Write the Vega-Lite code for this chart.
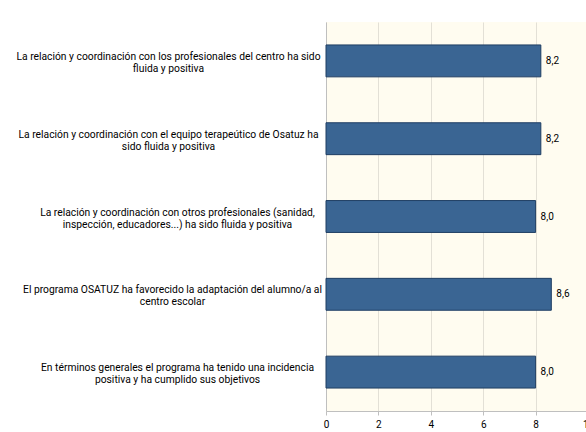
{
  "$schema": "https://vega.github.io/schema/vega-lite/v6.json",
  "width": 262,
  "height": 389,
  "autosize": {"type": "none"},
  "padding": {"left": 326, "top": 22, "right": 0, "bottom": 21},
  "background": "white",
  "config": {
    "locale": {"number": {"decimal": ",", "thousands": ".", "grouping": [3], "currency": ["", " €"]}},
    "view": {"fill": "#FFFCF0", "stroke": null},
    "font": "Roboto"
  },
  "data": {
    "values": [
      {"q": "La relación y coordinación con los profesionales del centro ha sido|fluida y positiva", "v": 8.2},
      {"q": "La relación y coordinación con el equipo terapeútico de Osatuz ha|sido fluida y positiva", "v": 8.2},
      {"q": "La relación y coordinación con otros profesionales (sanidad,|inspección, educadores...) ha sido fluida y positiva", "v": 8.0},
      {"q": "El programa OSATUZ ha favorecido la adaptación del alumno/a al|centro escolar", "v": 8.6},
      {"q": "En términos generales el programa ha tenido una incidencia|positiva  y ha cumplido sus objetivos", "v": 8.0}
    ]
  },
  "encoding": {
    "y": {
      "field": "q", "type": "nominal", "sort": null, "title": null,
      "scale": {"paddingInner": 0.59, "paddingOuter": 0.295},
      "axis": {
        "labelExpr": "split(datum.label, '|')",
        "labelAlign": "center",
        "labelBaseline": "middle",
        "labelLimit": 400,
        "labelFontSize": 10.3,
        "labelColor": "#000000",
        "labelLineHeight": 12,
        "labelOffset": -4,
        "ticks": false,
        "labelPadding": {
          "condition": [
            {"test": "indexof(datum.value, 'otros') >= 0 || indexof(datum.value, 'términos') >= 0", "value": 149},
            {"test": "indexof(datum.value, 'OSATUZ') >= 0", "value": 154}
          ],
          "value": 158
        },
        "domainColor": "#BFBFBF"
      }
    }
  },
  "layer": [
    {
      "mark": {"type": "bar", "color": "#3A6593", "stroke": "#1F3E63", "strokeWidth": 1},
      "encoding": {
        "x": {
          "field": "v", "type": "quantitative", "title": null,
          "scale": {"domain": [0, 10], "nice": false},
          "axis": {
            "values": [0, 2, 4, 6, 8, 10],
            "format": "d",
            "gridColor": "#E3E0D6",
            "domainColor": "#BFBFBF",
            "tickColor": "#BFBFBF",
            "tickSize": 4,
            "labelFontSize": 10,
            "labelColor": "#000000",
            "labelPadding": 4,
            "labelFlush": false
          }
        }
      }
    },
    {
      "mark": {"type": "text", "align": "left", "dx": 5, "fontSize": 10, "color": "#000000"},
      "encoding": {
        "x": {"field": "v", "type": "quantitative"},
        "text": {"field": "v", "type": "quantitative", "format": ".1f"}
      }
    }
  ]
}
